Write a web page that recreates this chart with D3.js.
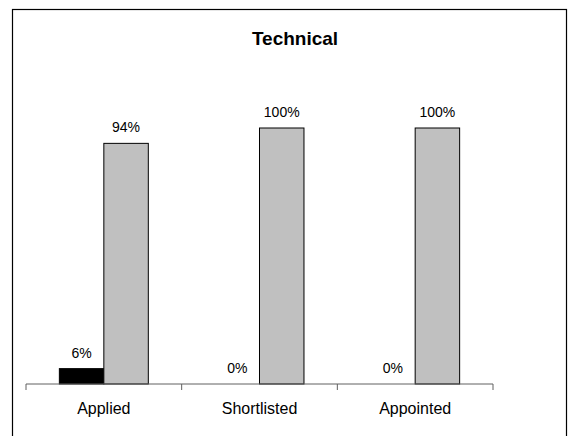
<!DOCTYPE html>
<html>
<head>
<meta charset="utf-8">
<script src="https://cdn.jsdelivr.net/npm/d3@7"></script>
<style>
  html, body { margin: 0; padding: 0; background: #fff; }
  svg { display: block; font-family: Arial, "Liberation Sans", sans-serif; }
</style>
</head>
<body>
<div id="chart"></div>
<script>
// Data
const categories = ["Applied", "Shortlisted", "Appointed"]
const seriesNames = ["Yes", "No"]
const blackValues = [6, 0, 0]
const greyValues = [94, 100, 100]
const title = "Technical"

const SERIES_FILL = { Yes: "#000000", No: "#c0c0c0" }

const width = 574
const height = 436

const svg = d3.select("#chart").append("svg")
  .attr("width", width)
  .attr("height", height)

// Chart border (bottom edge falls outside the picture)
svg.append("rect")
  .attr("x", 12.5)
  .attr("y", 9.5)
  .attr("width", 554)
  .attr("height", 440)
  .attr("fill", "none")
  .attr("stroke", "#000")
  .attr("stroke-width", 1.2)

svg.append("text")
  .attr("x", 295)
  .attr("y", 45)
  .attr("text-anchor", "middle")
  .attr("font-size", 19)
  .attr("font-weight", "bold")
  .attr("fill", "#000")
  .text(title)

const x = d3.scaleBand()
  .domain(categories)
  .range([26, 493])
  .paddingInner(0)
  .paddingOuter(0)

const y = d3.scaleLinear()
  .domain([0, 100])
  .range([384, 128])

// gap width 150% -> each bar is bandwidth / 3.5
const barW = x.bandwidth() / 3.5
const xs = d3.scaleBand()
  .domain(seriesNames)
  .range([0, barW * 2])

const rows = categories.map((c, i) => ({
  cat: c,
  values: [
    { key: "Yes", value: blackValues[i] },
    { key: "No", value: greyValues[i] }
  ]
}))

const groups = svg.append("g")
  .selectAll("g")
  .data(rows)
  .enter().append("g")
  .attr("transform", d => `translate(${x(d.cat) + (x.bandwidth() - barW * 2) / 2},0)`)

groups.selectAll("rect")
  .data(d => d.values.filter(v => v.value > 0))
  .enter().append("rect")
  .attr("x", d => xs(d.key))
  .attr("y", d => y(d.value))
  .attr("width", xs.bandwidth())
  .attr("height", d => y(0) - y(d.value))
  .attr("fill", d => SERIES_FILL[d.key])
  .attr("stroke", "#000")
  .attr("stroke-width", 1)

// Value labels
groups.selectAll("text")
  .data(d => d.values)
  .enter().append("text")
  .attr("x", d => xs(d.key) + xs.bandwidth() / 2)
  .attr("y", d => y(d.value) - 11)
  .attr("text-anchor", "middle")
  .attr("font-size", 14)
  .attr("fill", "#000")
  .text(d => d.value + "%")

// Category axis: line, boundary ticks, centered labels
const axis = svg.append("g")
  .attr("transform", `translate(0,${y(0)})`)

axis.append("line")
  .attr("x1", x.range()[0])
  .attr("x2", x.range()[1])
  .attr("stroke", "#606060")
  .attr("stroke-width", 1)

const tickPos = categories.map(c => x(c)).concat([x.range()[1]])
axis.selectAll("line.tick")
  .data(tickPos)
  .enter().append("line")
  .attr("class", "tick")
  .attr("x1", d => d)
  .attr("x2", d => d)
  .attr("y1", 0)
  .attr("y2", 6)
  .attr("stroke", "#606060")

axis.selectAll("text")
  .data(categories)
  .enter().append("text")
  .attr("x", d => x(d) + x.bandwidth() / 2)
  .attr("y", 30)
  .attr("text-anchor", "middle")
  .attr("font-size", 16)
  .attr("fill", "#000")
  .text(d => d)
</script>
</body>
</html>
